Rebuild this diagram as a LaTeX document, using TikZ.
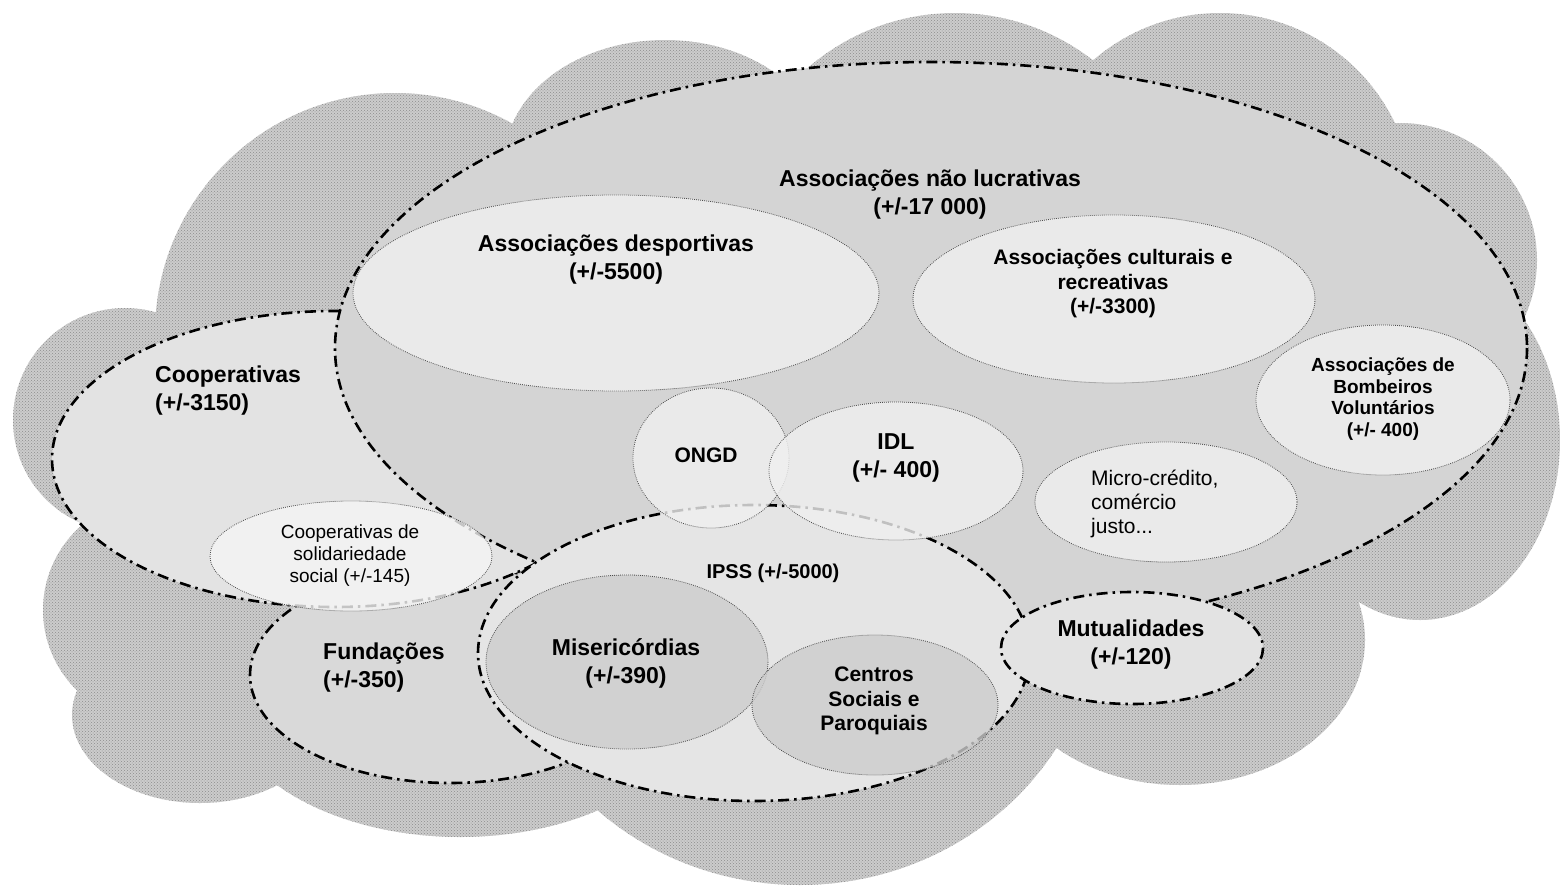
\documentclass[tikz,border=0pt]{standalone}
\usepackage{fontspec}
\setmainfont{Liberation Sans}
\usetikzlibrary{patterns}

\begin{document}
\begin{tikzpicture}[x=1pt,y=-1pt,
  setline/.style={line width=2.6pt,dash pattern=on 11pt off 5pt on 2.5pt off 5pt},
  subset/.style={draw=black!70,line width=0.8pt,dash pattern=on 0.8pt off 1.2pt,fill opacity=0.8},
  labelbig/.style={font=\bfseries\fontsize{23}{28}\selectfont,align=center,inner sep=0pt},
  labelmid/.style={font=\bfseries\fontsize{21}{24.5}\selectfont,align=center,inner sep=0pt},
  labelsmall/.style={font=\fontsize{19}{22}\selectfont,align=center,inner sep=0pt}]

  \useasboundingbox (0,0) rectangle (1560,886);

  % cloud
  \fill[black!20, postaction={pattern=crosshatch dots, pattern color=black!45}]
    (395,333) circle [radius=240]
    (665,160) ellipse [x radius=160, y radius=120]
    (955,238) circle [radius=225]
    (1220,207) circle [radius=194]
    (1400,260) circle [radius=137]
    (1420,440) ellipse [x radius=140, y radius=180]
    (1180,640) ellipse [x radius=185, y radius=145]
    (800,600) ellipse [x radius=300, y radius=285]
    (460,690) ellipse [x radius=240, y radius=147]
    (200,715) ellipse [x radius=128, y radius=88]
    (155,610) circle [radius=112]
    (125,420) circle [radius=112];

  % big sets
  \draw[setline, fill=black!15] (450,675) ellipse [x radius=200, y radius=108];
  \draw[setline, fill=black!11] (335,459) ellipse [x radius=283, y radius=148];
  \draw[setline, fill=black!17] (931,348) ellipse [x radius=596, y radius=286];
  \draw[setline, fill=black!10] (754,653) ellipse [x radius=276, y radius=148];
  \draw[setline, fill=black!11] (1132,648) ellipse [x radius=131, y radius=56];

  % associacoes
  \draw[subset, fill=black!6] (616,293) ellipse [x radius=263, y radius=98];
  \draw[subset, fill=black!6] (1114,299) ellipse [x radius=201, y radius=84];
  \draw[subset, fill=black!6] (1383,400) ellipse [x radius=127, y radius=75];
  \draw[subset, fill=black!6] (1166,502) ellipse [x radius=131, y radius=60];
  \draw[subset, fill=black!6] (711,458) ellipse [x radius=78, y radius=70];
  \draw[subset, fill=black!6] (896,471) ellipse [x radius=127, y radius=69];

  % cooperativas
  \draw[subset, fill=black!4] (351,556) ellipse [x radius=141, y radius=55];

  % ipss
  \draw[subset, fill=black!20] (627,662) ellipse [x radius=141, y radius=87];
  \draw[subset, fill=black!20] (875,705) ellipse [x radius=123, y radius=70];

  % labels
  \node[labelbig] (naolucr) at (930,195) {Associações não lucrativas\\(+/-17 000)};
  \node[labelbig] (desport) at (616,260) {Associações desportivas\\(+/-5500)};
  \node[labelmid] (cultur) at (1113,284) {Associações culturais e\\recreativas\\(+/-3300)};
  \node[labelbig, font=\bfseries\fontsize{19}{21.5}\selectfont] (bombeir) at (1383,399)
    {Associações de\\Bombeiros\\Voluntários\\(+/- 400)};
  \node[labelbig, anchor=west, align=left] (cooper) at (155,391) {Cooperativas\\(+/-3150)};
  \node[labelmid] (ongd) at (706,455) {ONGD};
  \node[labelbig] (idl) at (896,458) {IDL\\(+/- 400)};
  \node[labelsmall, font=\fontsize{21}{24}\selectfont, anchor=west, align=left] (micro) at (1091,504)
    {Micro-crédito,\\comércio\\justo...};
  \node[labelsmall] (coopsol) at (350,556) {Cooperativas de\\solidariedade\\social (+/-145)};
  \node[labelmid, font=\bfseries\fontsize{20}{24}\selectfont] (ipss) at (773,573) {IPSS (+/-5000)};
  \node[labelbig, anchor=west, align=left] (fundac) at (323,668) {Fundações\\(+/-350)};
  \node[labelbig] (miseric) at (626,663) {Misericórdias\\(+/-390)};
  \node[labelmid] (centros) at (874,701) {Centros\\Sociais e\\Paroquiais};
  \node[labelbig] (mutual) at (1131,645) {Mutualidades\\(+/-120)};

\end{tikzpicture}
\end{document}
